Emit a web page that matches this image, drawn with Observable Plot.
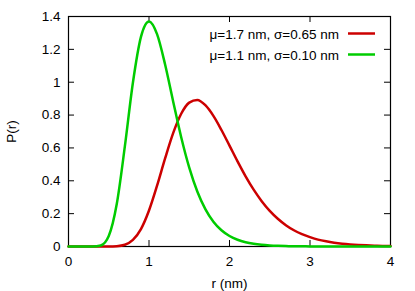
<!DOCTYPE html>
<html><head><meta charset="utf-8">
<script src="https://cdn.jsdelivr.net/npm/d3@7"></script>
<script src="https://cdn.jsdelivr.net/npm/@observablehq/plot@0.6"></script>
<style>body{margin:0;background:#fff} svg{display:block}</style>
</head><body><div id="chart"></div>
<script>
// radius grid (nm)
const rValues = [0,0.1,0.2,0.3,0.4,0.5,0.6,0.7,0.8,0.9,1.0,1.1,1.2,1.3,1.4,1.5,1.6,1.7,1.8,1.9,2.0,
                 2.1,2.2,2.3,2.4,2.5,2.6,2.7,2.8,2.9,3.0,3.1,3.2,3.3,3.4,3.5,3.6,3.7,3.8,3.9,4.0];
// red series: mu=1.7 nm, sigma=0.65 nm
const redP = [0,0,0,0,0,0.0001,0.0017,0.0104,0.040,0.106,0.219,0.370,0.536,0.690,0.808,0.876,0.892,0.860,0.795,0.709,0.614,
              0.518,0.427,0.346,0.276,0.217,0.169,0.130,0.099,0.075,0.057,0.042,0.0315,0.0234,0.0173,0.0128,0.0094,0.0069,0.0051,0.0037,0.0027];
// green series: mu=1.1 nm, sigma=0.10 nm
const greenP = [0,0,0,0.0001,0.0065,0.064,0.260,0.609,0.997,1.276,1.370,1.293,1.108,0.883,0.665,0.480,0.335,0.228,0.151,0.099,0.064,
                0.041,0.026,0.0164,0.0103,0.0065,0.0041,0.0026,0.0016,0.0010,0.0006,0.0004,0.0002,0.0001,0,0,0,0,0,0,0];
const seriesNames = ["\u03bc=1.7 nm, \u03c3=0.65 nm", "\u03bc=1.1 nm, \u03c3=0.10 nm"];
const seriesColors = ["#cc0000", "#00cc00"];
const xTicks = [0,1,2,3,4];
const yTicks = [0,0.2,0.4,0.6,0.8,1,1.2,1.4];
const xLabel = "r (nm)";
const yLabel = "P(r)";

const series = [redP, greenP];
const data = [];
series.forEach((vals, s) => vals.forEach((p, i) => data.push({r: rValues[i], p, s: seriesNames[s]})));

const W = 415, H = 291, mL = 68, mR = 25, mT = 16, mB = 45;
const pw = W - mL - mR, ph = H - mT - mB, tick = 6;
const FONT = "'Liberation Sans', Arial, sans-serif", FS = "13.5px";

const chart = Plot.plot({
  width: W, height: H,
  marginLeft: mL, marginRight: mR, marginTop: mT, marginBottom: mB,
  style: {fontFamily: FONT, fontSize: FS, color: "black", background: "white"},
  x: {domain: [0, 4]},
  y: {domain: [0, 1.4]},
  color: {domain: seriesNames, range: seriesColors},
  marks: [
    Plot.ruleX(xTicks, {insetTop: ph - tick, stroke: "black"}),
    Plot.ruleX(xTicks, {insetBottom: ph - tick, stroke: "black"}),
    Plot.ruleY(yTicks, {insetRight: pw - tick, stroke: "black"}),
    Plot.ruleY(yTicks, {insetLeft: pw - tick, stroke: "black"}),
    Plot.axisX({ticks: xTicks, tickSize: 0, tickPadding: 10, tickFormat: d => String(d), label: xLabel, labelAnchor: "center", labelOffset: 41, labelArrow: "none"}),
    Plot.axisY({ticks: yTicks, tickSize: 0, tickPadding: 8, tickFormat: d => String(d), label: yLabel, labelAnchor: "center", labelOffset: 62, labelArrow: "none"}),
    Plot.frame({stroke: "black", strokeWidth: 1.2}),
    Plot.line(data, {x: "r", y: "p", stroke: "s", z: "s", strokeWidth: 2.5, curve: "monotone-x"})
  ]
});
document.getElementById("chart").appendChild(chart);

// legend (top-right, inside frame)
const svg = d3.select(chart);
const lg = svg.append("g").attr("font-family", FONT).attr("font-size", FS);
seriesNames.forEach((name, i) => {
  const y = mT + 18.5 + 21 * i;
  lg.append("text").attr("x", W - mR - 51).attr("y", y).attr("dy", "0.35em")
    .attr("text-anchor", "end").attr("fill", "black").text(name);
  lg.append("line").attr("x1", W - mR - 42).attr("x2", W - mR - 15)
    .attr("y1", y - 1).attr("y2", y - 1)
    .attr("stroke", seriesColors[i]).attr("stroke-width", 2.5);
});
</script>
</body></html>
